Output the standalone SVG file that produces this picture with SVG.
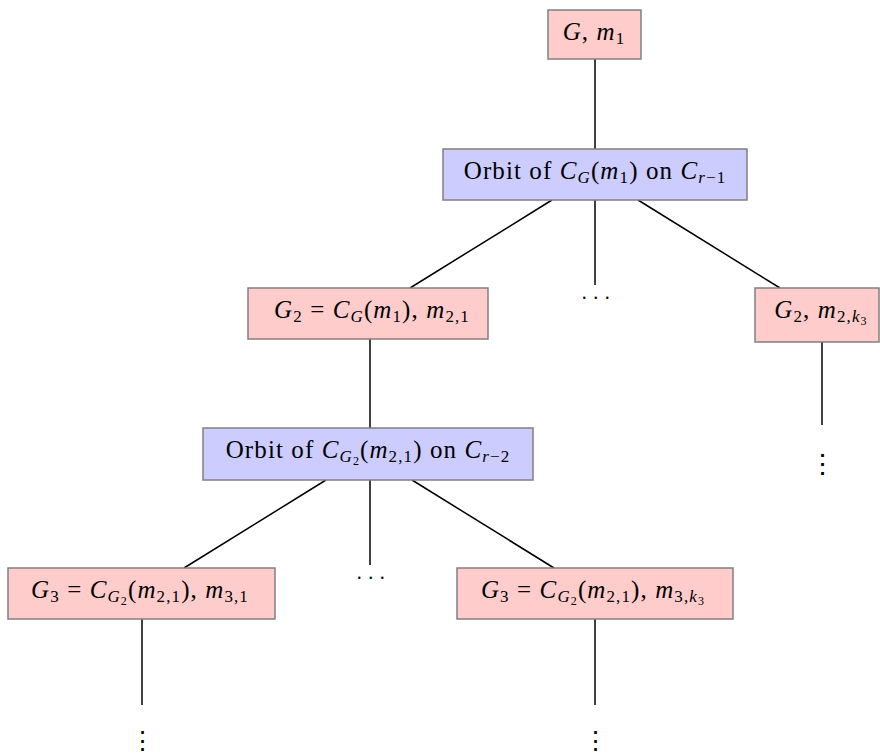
<svg xmlns="http://www.w3.org/2000/svg" width="880" height="755" viewBox="0 0 880 755">
<style>
.pink{fill:#ffcccc;stroke:#808080;stroke-width:1.5}
.blue{fill:#ccccff;stroke:#808080;stroke-width:1.5}
.lbl{font-family:"Liberation Serif","DejaVu Serif",serif;font-size:25px;fill:#000;text-anchor:middle;letter-spacing:1.1px}
.i{font-style:italic}
.s{font-size:17px}
.ss{font-size:12px}
.dots{font-family:"Liberation Serif",serif;font-size:20px;fill:#000;text-anchor:middle;letter-spacing:6.5px}
.vd{font-family:"Noto Sans CJK JP",sans-serif;font-size:27px;fill:#000;text-anchor:middle}
.vdb{font-family:"Noto Sans CJK JP",sans-serif;font-size:25px;fill:#000;text-anchor:middle}
#edges line{stroke:#000;stroke-width:1.5}
</style>
<rect width="880" height="755" fill="#fff"/>
<g id="edges">
<line x1="595" y1="59" x2="595" y2="149"/>
<line x1="552" y1="200" x2="410" y2="288"/>
<line x1="595" y1="200" x2="595" y2="285"/>
<line x1="638" y1="200" x2="780" y2="288"/>
<line x1="370" y1="339" x2="370" y2="428"/>
<line x1="822" y1="342" x2="822" y2="425"/>
<line x1="326" y1="480" x2="184" y2="568"/>
<line x1="370" y1="480" x2="370" y2="565"/>
<line x1="412" y1="480" x2="554" y2="568"/>
<line x1="142" y1="619" x2="142" y2="705"/>
<line x1="595" y1="619" x2="595" y2="705"/>
</g>
<g id="n1">
<rect class="pink" x="548" y="10" width="93" height="49"/>
<text class="lbl" x="594" y="40"><tspan class="i">G</tspan>, <tspan class="i">m</tspan><tspan class="s" dy="4">1</tspan></text>
</g>
<g id="n2">
<rect class="blue" x="443" y="149" width="304" height="51"/>
<text class="lbl" x="595" y="179">Orbit of <tspan class="i">C</tspan><tspan class="s i" dy="4">G</tspan><tspan dy="-4">(</tspan><tspan class="i">m</tspan><tspan class="s" dy="4">1</tspan><tspan dy="-4">) on </tspan><tspan class="i">C</tspan><tspan class="s" dy="4"><tspan class="i">r</tspan>−1</tspan></text>
</g>
<g id="n3">
<rect class="pink" x="248" y="288" width="240" height="51"/>
<text class="lbl" x="372" y="318"><tspan class="i">G</tspan><tspan class="s" dy="4">2</tspan><tspan dy="-4"> = </tspan><tspan class="i">C</tspan><tspan class="s i" dy="4">G</tspan><tspan dy="-4">(</tspan><tspan class="i">m</tspan><tspan class="s" dy="4">1</tspan><tspan dy="-4">), </tspan><tspan class="i">m</tspan><tspan class="s" dy="4">2,1</tspan></text>
</g>
<g id="n4">
<rect class="pink" x="755" y="288" width="124" height="54"/>
<text class="lbl" x="821" y="318"><tspan class="i">G</tspan><tspan class="s" dy="4">2</tspan><tspan dy="-4">, </tspan><tspan class="i">m</tspan><tspan class="s" dy="4">2,<tspan class="i">k</tspan></tspan><tspan class="ss" dy="3">3</tspan></text>
</g>
<g id="n5">
<rect class="blue" x="203" y="428" width="330" height="52"/>
<text class="lbl" x="368" y="458">Orbit of <tspan class="i">C</tspan><tspan class="s i" dy="4">G</tspan><tspan class="ss" dy="3">2</tspan><tspan dy="-7">(</tspan><tspan class="i">m</tspan><tspan class="s" dy="4">2,1</tspan><tspan dy="-4">) on </tspan><tspan class="i">C</tspan><tspan class="s" dy="4"><tspan class="i">r</tspan>−2</tspan></text>
</g>
<g id="n6">
<rect class="pink" x="8" y="568" width="267" height="51"/>
<text class="lbl" x="140" y="598"><tspan class="i">G</tspan><tspan class="s" dy="4">3</tspan><tspan dy="-4"> = </tspan><tspan class="i">C</tspan><tspan class="s i" dy="4">G</tspan><tspan class="ss" dy="3">2</tspan><tspan dy="-7">(</tspan><tspan class="i">m</tspan><tspan class="s" dy="4">2,1</tspan><tspan dy="-4">), </tspan><tspan class="i">m</tspan><tspan class="s" dy="4">3,1</tspan></text>
</g>
<g id="n7">
<rect class="pink" x="457" y="568" width="276" height="51"/>
<text class="lbl" x="593" y="598"><tspan class="i">G</tspan><tspan class="s" dy="4">3</tspan><tspan dy="-4"> = </tspan><tspan class="i">C</tspan><tspan class="s i" dy="4">G</tspan><tspan class="ss" dy="3">2</tspan><tspan dy="-7">(</tspan><tspan class="i">m</tspan><tspan class="s" dy="4">2,1</tspan><tspan dy="-4">), </tspan><tspan class="i">m</tspan><tspan class="s" dy="4">3,<tspan class="i">k</tspan></tspan><tspan class="ss" dy="3">3</tspan></text>
</g>
<g id="ellipses">
<text class="dots" x="599" y="299">...</text>
<text class="dots" x="374" y="579">...</text>
<text class="vd" x="822" y="473">⋮</text>
<text class="vdb" x="142" y="749">⋮</text>
<text class="vdb" x="595" y="749">⋮</text>
</g>
</svg>
